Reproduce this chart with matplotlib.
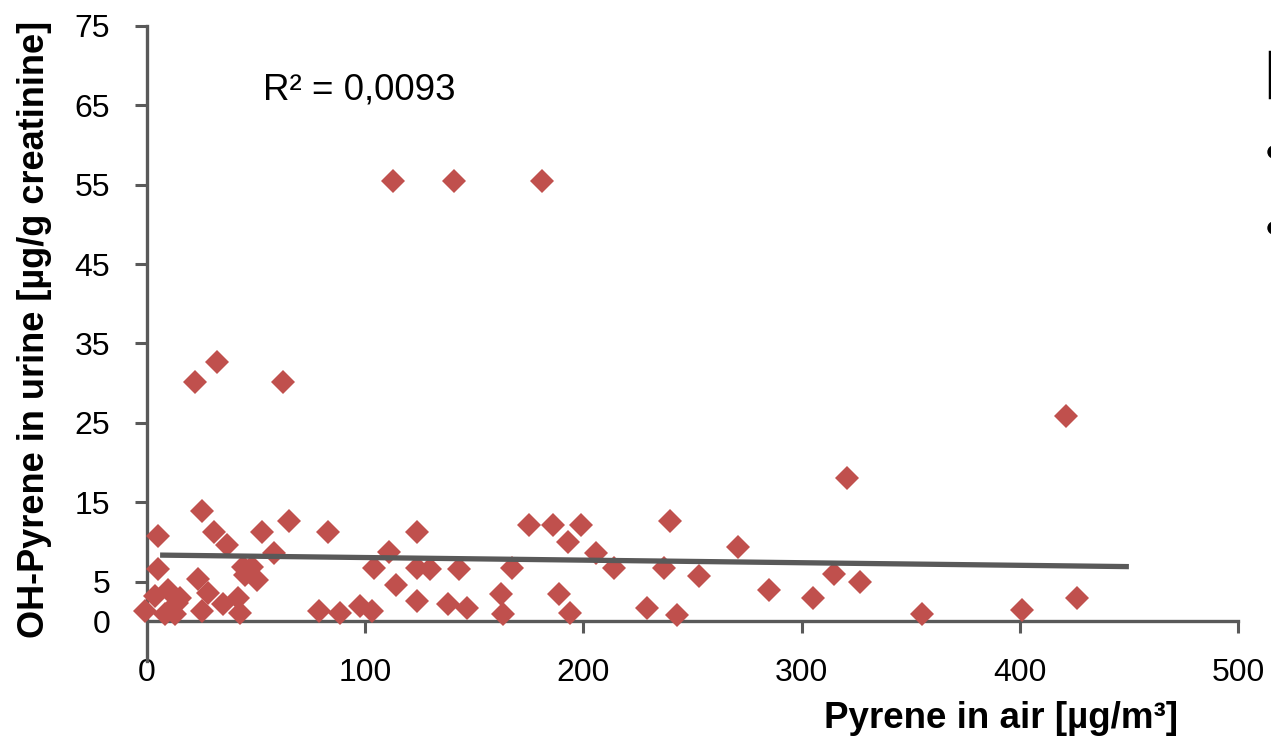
import matplotlib
matplotlib.use("Agg")
import matplotlib.pyplot as plt
from matplotlib.lines import Line2D
from matplotlib.patches import Ellipse

plt.rcParams['font.family'] = ['Liberation Sans', 'DejaVu Sans']

# ---- data ----
pyrene_air = [112.9, 140.8, 181.2, 22.0, 32.2, 62.5, 320.7, 421.0, 355.0, 401.2,
              426.1, 25.1, 5.2, 30.7, 36.5, 52.6, 65.1, 82.9, 58.4, 5.2,
              44.2, 48.0, 44.9, 50.3, 23.5, 28.1, 3.7, 9.8, 13.6, -0.9,
              8.2, 12.8, 15.1, 25.1, 35.0, 41.9, 42.6, 79.0, 123.9, 110.9,
              104.0, 123.6, 129.7, 143.0, 114.0, 123.9, 137.8, 146.8, 88.5, 97.6,
              103.0, 175.1, 185.9, 198.8, 193.1, 205.6, 167.1, 214.2, 236.9, 239.7,
              162.1, 189.0, 163.0, 193.9, 229.0, 242.7, 271.0, 253.1, 285.1, 305.1,
              315.0, 326.8]
oh_pyrene_urine = [55.5, 55.5, 55.5, 30.2, 32.7, 30.2, 18.0, 25.9, 0.9, 1.4,
                   3.0, 13.9, 10.8, 11.2, 9.6, 11.2, 12.7, 11.2, 8.65, 6.6,
                   6.8, 6.8, 5.85, 5.2, 5.3, 3.6, 3.2, 3.95, 2.3, 1.35,
                   0.9, 0.9, 2.9, 1.35, 2.2, 2.9, 1.1, 1.35, 11.2, 8.8,
                   6.7, 6.7, 6.55, 6.55, 4.6, 2.6, 2.2, 1.7, 1.1, 1.9,
                   1.35, 12.2, 12.2, 12.2, 10.0, 8.65, 6.75, 6.7, 6.75, 12.6,
                   3.45, 3.45, 0.9, 1.1, 1.65, 0.8, 9.4, 5.7, 3.95, 3.0,
                   5.95, 4.9]
trend_x = [6, 450]
trend_y = [8.35, 6.9]
r2_label = "R² = 0,0093"
x_ticks = [0, 100, 200, 300, 400, 500]
y_ticks = [0, 5, 15, 25, 35, 45, 55, 65, 75]
x_label = "Pyrene in air [µg/m³]"
y_label = "OH-Pyrene in urine [µg/g creatinine]"

W, H = 1271, 738
fig = plt.figure(figsize=(W / 100, H / 100), dpi=100)
ax = fig.add_axes([147 / W, 1 - 661.1 / H, (1238 - 147) / W, (661.1 - 25.9) / H])

axis_col = '#595959'
ax.plot(pyrene_air, oh_pyrene_urine, linestyle='none', marker='D',
        markersize=12.0, color='#C0504D', markeredgewidth=0, clip_on=False, zorder=3)
ax.plot(trend_x, trend_y, color=axis_col, linewidth=3.8, solid_capstyle='butt', zorder=4)

ax.set_xlim(0, 500)
ax.set_ylim(-5, 75)
ax.set_xticks(x_ticks)
ax.set_yticks(y_ticks)
ax.set_xticklabels([str(v) for v in x_ticks])
ax.set_yticklabels([str(v) for v in y_ticks])

for s in ['top', 'right']:
    ax.spines[s].set_visible(False)
ax.spines['bottom'].set_position(('data', 0))
for s in ['left', 'bottom']:
    ax.spines[s].set_color(axis_col)
    ax.spines[s].set_linewidth(2.4)

ax.tick_params(axis='both', direction='out', length=8.6, width=2.2, color=axis_col,
               labelsize=23, labelcolor='black')
ax.tick_params(axis='x', pad=18)
ax.tick_params(axis='y', pad=18)
ax.yaxis.get_major_ticks()[0].tick1line.set_visible(False)
ax.xaxis.get_major_ticks()[0].tick1line.set_visible(False)

fig.text(263 / W, 1 - 100 / H, r2_label, fontsize=26.5, ha='left', va='baseline')
fig.text(1001 / W, 1 - 718 / H, x_label, fontsize=26.5, fontweight='bold',
         ha='center', va='center')
fig.text(35 / W, 1 - 329 / H, y_label, fontsize=26, fontweight='bold',
         ha='center', va='center', rotation=90)

# partially visible legend fragment at right edge
fig.add_artist(Line2D([1269.5 / W, 1269.5 / W], [1 - 52 / H, 1 - 97 / H],
                      transform=fig.transFigure, color='black', linewidth=2.5))
for cy in [152, 228]:
    fig.add_artist(Ellipse((1274 / W, 1 - cy / H), 12 / W, 12 / H,
                           transform=fig.transFigure, color='black'))

fig.savefig('out.png', dpi=100)
